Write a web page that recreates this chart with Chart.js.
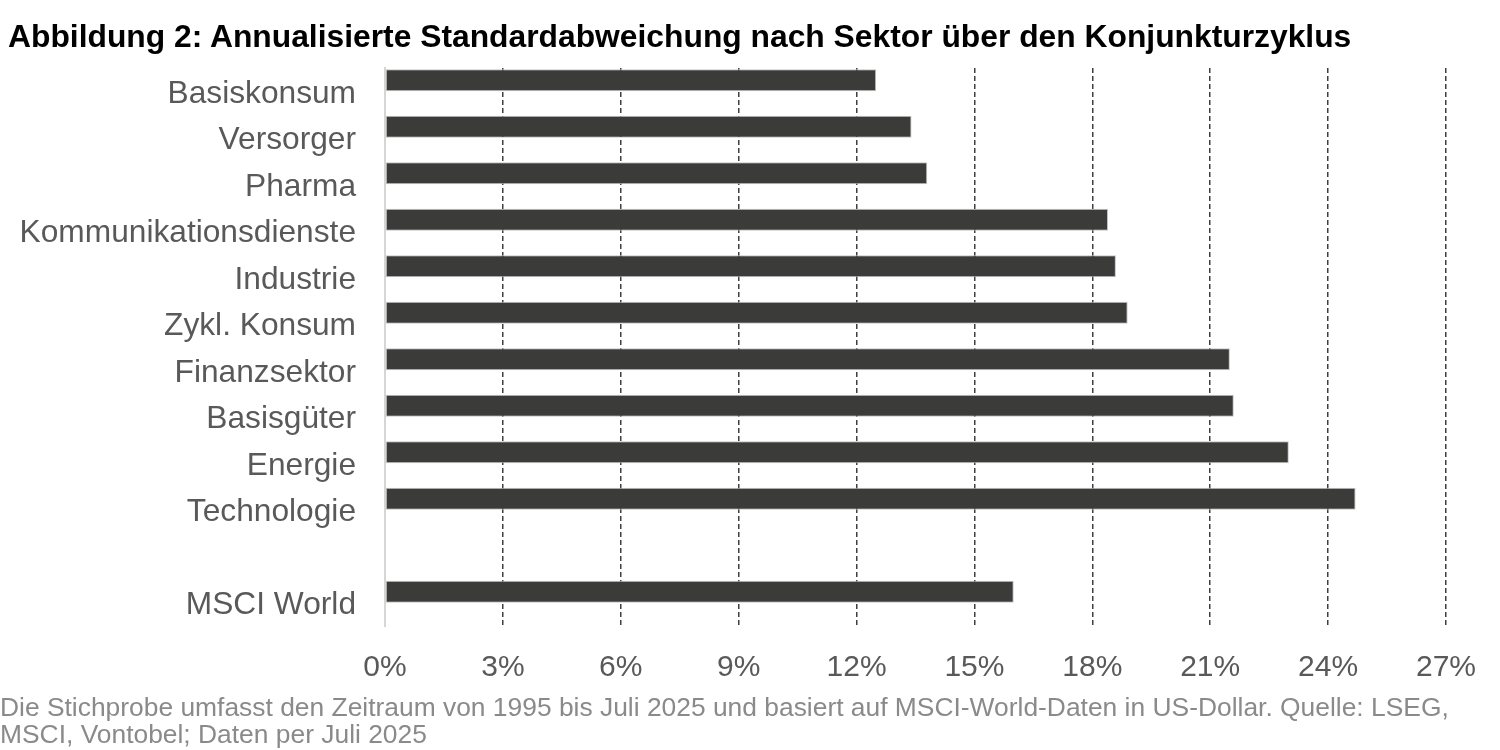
<!DOCTYPE html>
<html lang="de">
<head>
<meta charset="utf-8">
<title>Abbildung 2</title>
<script src="https://cdn.jsdelivr.net/npm/chart.js@4/dist/chart.umd.min.js"></script>
<style>
  html, body { margin: 0; padding: 0; background: #fff; }
  #page { position: relative; width: 1500px; height: 750px; overflow: hidden; font-family: "Liberation Sans", Arial, sans-serif; }
  #title { position: absolute; left: 8px; top: 20px; font-size: 31.8px; line-height: 32px; font-weight: bold; color: #000; white-space: nowrap; }
  #note { position: absolute; left: 0; top: 694px; font-size: 26.4px; line-height: 27px; color: #8a8a8a; white-space: nowrap; }
  #chart-wrap { position: absolute; left: 0; top: 0; width: 1500px; height: 750px; }
</style>
</head>
<body>
<div id="page">
  <div id="chart-wrap"><canvas id="chart"></canvas></div>
  <div id="title">Abbildung 2: Annualisierte Standardabweichung nach Sektor über den Konjunkturzyklus</div>
  <div id="note">Die Stichprobe umfasst den Zeitraum von 1995 bis Juli 2025 und basiert auf MSCI-World-Daten in US-Dollar. Quelle: LSEG,<br>MSCI, Vontobel; Daten per Juli 2025</div>
</div>
<script>
/* ============================= */
/*            DATA               */
/* ============================= */
const sectors = [
    'Basiskonsum', 'Versorger', 'Pharma', 'Kommunikationsdienste', 'Industrie',
    'Zykl. Konsum', 'Finanzsektor', 'Basisgüter', 'Energie', 'Technologie',
    '', 'MSCI World'
];
// annualised standard deviation in %
const stdDev = [12.5, 13.4, 13.8, 18.4, 18.6, 18.9, 21.5, 21.6, 23.0, 24.7, null, 16.0];
// empty second series: keeps the bars in the upper half of each row
const spacer = sectors.map(() => null);
const xTicks = [0, 3, 6, 9, 12, 15, 18, 21, 24, 27];

/* ============================= */
/*            CHART              */
/* ============================= */
const labelColor = '#595959';

new Chart(document.getElementById('chart'), {
    type: 'bar',
    data: {
        labels: sectors,
        datasets: [
            {
                data: stdDev,
                backgroundColor: '#3b3c39',
                borderColor: '#c4c4c4',
                borderWidth: 1,
                borderSkipped: false
            },
            { data: spacer, backgroundColor: 'rgba(0,0,0,0)' }
        ]
    },
    options: {
        indexAxis: 'y',
        responsive: true,
        maintainAspectRatio: false,
        animation: false,
        categoryPercentage: 0.95,
        barPercentage: 1,
        layout: { padding: { top: 68, right: 53, bottom: 64, left: 0 } },
        plugins: {
            legend: { display: false },
            tooltip: { enabled: false }
        },
        scales: {
            x: {
                min: xTicks[0],
                max: xTicks[xTicks.length - 1],
                afterBuildTicks: scale => { scale.ticks = xTicks.map(v => ({ value: v })); },
                afterFit: scale => { scale.height = 60; },
                ticks: {
                    padding: 24,
                    color: labelColor,
                    font: { family: '"Liberation Sans", Arial, sans-serif', size: 30 },
                    callback: v => v + '%'
                },
                grid: {
                    drawTicks: false,
                    lineWidth: 1.5,
                    color: ctx => ctx.index === 0 ? 'rgba(0,0,0,0)' : '#3f3f3f'
                },
                border: { display: false, dash: [5, 3] }
            },
            y: {
                afterFit: scale => { scale.width = 385; },
                ticks: {
                    padding: 29,
                    labelOffset: 3,
                    color: labelColor,
                    font: { family: '"Liberation Sans", Arial, sans-serif', size: 31.7 }
                },
                grid: { display: false, drawTicks: false },
                border: { display: true, color: '#d6d6d6', width: 2 }
            }
        }
    }
});
</script>
</body>
</html>
